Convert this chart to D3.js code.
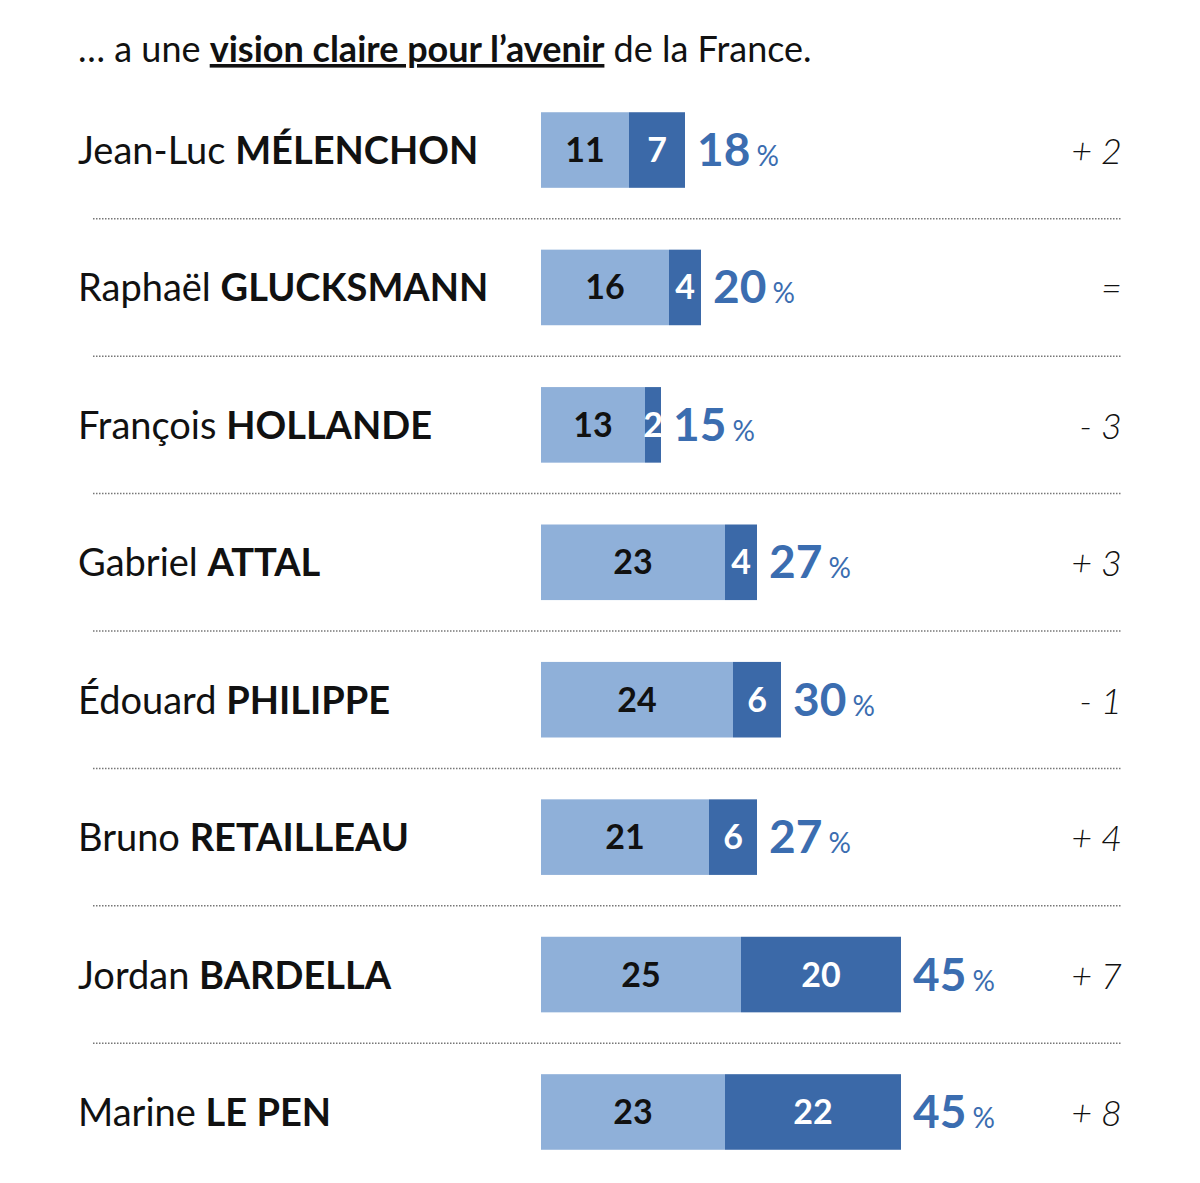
<!DOCTYPE html>
<html><head><meta charset="utf-8">
<script src="https://cdn.jsdelivr.net/npm/d3@7"></script>
<style>body{margin:0;background:#fff}</style></head>
<body><svg id="c" width="1200" height="1183"></svg>
<script>
const firstNames=["Jean-Luc","Raphaël","François","Gabriel","Édouard","Bruno","Jordan","Marine"];
const lastNames=["MÉLENCHON","GLUCKSMANN","HOLLANDE","ATTAL","PHILIPPE","RETAILLEAU","BARDELLA","LE PEN"];
const partA=[11,16,13,23,24,21,25,23];
const partB=[7,4,2,4,6,6,20,22];
const totals=[18,20,15,27,30,27,45,45];
const changes=["+ 2","=","- 3","+ 3","- 1","+ 4","+ 7","+ 8"];

const svg=d3.select("#c");
const F="Lato, 'Open Sans', sans-serif";
const x=d3.scaleLinear().domain([0,45]).range([541,901]);
const y=d3.scaleBand().domain(d3.range(8)).range([82,1180]).paddingInner(0.45).paddingOuter(0.22);
const cy=i=>y(i)+y.bandwidth()/2;

const t=svg.append("text").attr("x",78).attr("y",62).attr("font-family",F).attr("font-size",36).attr("fill","#111");
t.append("tspan").text("… a une ");
t.append("tspan").attr("font-weight","bold").attr("text-decoration","underline").text("vision claire pour l’avenir");
t.append("tspan").text(" de la France.");

const g=svg.selectAll("g.row").data(d3.range(8)).join("g");
g.append("rect").attr("x",x(0)).attr("y",i=>y(i)).attr("height",y.bandwidth())
 .attr("width",i=>x(partA[i])-x(0)).attr("fill","#8fb0d9");
g.append("rect").attr("x",i=>x(partA[i])).attr("y",i=>y(i)).attr("height",y.bandwidth())
 .attr("width",i=>x(partA[i]+partB[i])-x(partA[i])).attr("fill","#3b69a8");
g.append("text").attr("x",i=>(x(0)+x(partA[i]))/2).attr("y",i=>cy(i)+12)
 .attr("text-anchor","middle").attr("font-family",F).attr("font-weight","bold").attr("font-size",34).attr("fill","#111").text(i=>partA[i]);
g.append("text").attr("x",i=>(x(partA[i])+x(partA[i]+partB[i]))/2).attr("y",i=>cy(i)+12)
 .attr("text-anchor","middle").attr("font-family",F).attr("font-weight","bold").attr("font-size",34).attr("fill","#fff").text(i=>partB[i]);
const tt=g.append("text").attr("x",i=>x(totals[i])+12).attr("y",i=>cy(i)+16).attr("font-family",F).attr("fill","#3b6db0");
tt.append("tspan").attr("font-weight","bold").attr("font-size",46).text(i=>totals[i]);
tt.append("tspan").attr("font-size",28).attr("dx",6).text("%");
const nm=g.append("text").attr("x",78).attr("y",i=>cy(i)+14).attr("font-family",F).attr("font-size",38).attr("fill","#111");
nm.append("tspan").text(i=>firstNames[i]+" ");
nm.append("tspan").attr("font-weight","bold").text(i=>lastNames[i]);
g.append("text").attr("x",1122).attr("y",i=>cy(i)+14).attr("text-anchor","end").attr("font-family",F)
 .attr("font-style","italic").attr("font-weight",300).attr("font-size",36).attr("fill","#111").text(i=>changes[i]);
svg.selectAll("line.sep").data(d3.range(7)).join("line")
 .attr("x1",93).attr("x2",1122).attr("y1",i=>(y(i)+y.bandwidth()+y(i+1))/2).attr("y2",i=>(y(i)+y.bandwidth()+y(i+1))/2)
 .attr("stroke","#777").attr("stroke-width",1.5).attr("stroke-dasharray","1.5,1.5");
</script></body></html>
